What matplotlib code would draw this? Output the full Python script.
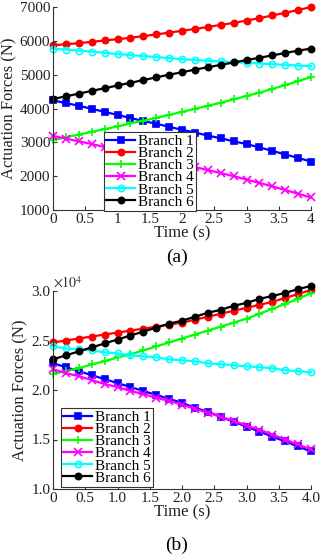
import matplotlib
matplotlib.use("Agg")
import matplotlib.pyplot as plt
import numpy as np

plt.rcParams['font.family'] = ['Liberation Serif', 'DejaVu Serif']
plt.rcParams['mathtext.fontset'] = 'stix'

time = [0.0, 0.2, 0.4, 0.6, 0.8, 1.0, 1.2, 1.4, 1.6, 1.8, 2.0,
        2.2, 2.4, 2.6, 2.8, 3.0, 3.2, 3.4, 3.6, 3.8, 4.0]
labels = ["Branch 1", "Branch 2", "Branch 3", "Branch 4", "Branch 5", "Branch 6"]

# (a) actuation forces, N
a_b1 = [4240, 4160, 4080, 3990, 3900, 3810, 3720, 3630, 3550, 3460, 3370,
        3290, 3200, 3120, 3030, 2950, 2850, 2750, 2640, 2540, 2430]
a_b2 = [5870, 5900, 5930, 5970, 6010, 6050, 6090, 6140, 6190, 6240, 6300,
        6350, 6410, 6470, 6530, 6600, 6670, 6750, 6830, 6910, 7000]
a_b3 = [3070, 3150, 3230, 3310, 3390, 3470, 3560, 3640, 3720, 3810, 3900,
        3990, 4080, 4170, 4270, 4370, 4470, 4580, 4690, 4810, 4930]
a_b4 = [3190, 3110, 3030, 2950, 2860, 2780, 2700, 2610, 2530, 2440, 2360,
        2270, 2180, 2090, 2000, 1900, 1800, 1700, 1590, 1480, 1370]
a_b5 = [5770, 5740, 5710, 5680, 5650, 5610, 5580, 5550, 5520, 5490, 5460,
        5430, 5410, 5390, 5370, 5350, 5330, 5310, 5290, 5270, 5250]
a_b6 = [4280, 4360, 4440, 4520, 4600, 4680, 4760, 4840, 4920, 5000, 5070,
        5150, 5220, 5290, 5360, 5430, 5500, 5570, 5640, 5710, 5770]

# (b) actuation forces, x 1e4 N
b_b1 = [2.27, 2.23, 2.19, 2.15, 2.11, 2.07, 2.03, 1.99, 1.95, 1.91, 1.87,
        1.82, 1.78, 1.73, 1.68, 1.63, 1.58, 1.53, 1.48, 1.43, 1.38]
b_b2 = [2.48, 2.50, 2.52, 2.54, 2.56, 2.58, 2.60, 2.62, 2.64, 2.66, 2.68,
        2.71, 2.74, 2.77, 2.80, 2.83, 2.86, 2.89, 2.93, 2.97, 3.01]
b_b3 = [2.16, 2.19, 2.22, 2.26, 2.29, 2.33, 2.36, 2.40, 2.44, 2.48, 2.52,
        2.56, 2.60, 2.64, 2.68, 2.72, 2.77, 2.82, 2.87, 2.92, 2.98]
b_b4 = [2.21, 2.17, 2.14, 2.10, 2.06, 2.03, 1.99, 1.96, 1.92, 1.89, 1.85,
        1.81, 1.77, 1.73, 1.69, 1.64, 1.60, 1.55, 1.50, 1.45, 1.40]
b_b5 = [2.44, 2.42, 2.41, 2.40, 2.38, 2.37, 2.35, 2.34, 2.33, 2.31, 2.30,
        2.29, 2.27, 2.26, 2.25, 2.24, 2.23, 2.22, 2.20, 2.19, 2.18]
b_b6 = [2.31, 2.35, 2.39, 2.43, 2.47, 2.51, 2.55, 2.59, 2.63, 2.67, 2.70,
        2.74, 2.78, 2.81, 2.85, 2.88, 2.92, 2.95, 2.98, 3.02, 3.05]

a_ticks_y = [1000, 2000, 3000, 4000, 5000, 6000, 7000]
b_ticks_y = [1.0, 1.5, 2.0, 2.5, 3.0]
x_ticks = [0, 0.5, 1, 1.5, 2, 2.5, 3, 3.5, 4]
a_xlabels = ["0", "0.5", "1", "1.5", "2", "2.5", "3", "3.5", "4"]
b_xlabels = ["0", "0.5", "1.0", "1.5", "2.0", "2.5", "3.0", "3.5", "4.0"]
b_ylabels = ["1.0", "1.5", "2.0", "2.5", "3.0"]

colors = ["#0000ff", "#ff0000", "#00ff00", "#ff00ff", "#00ffff", "#000000"]
markers = ["s", "o", "+", "x", "o", "o"]

W, H = 320, 557
fig = plt.figure(figsize=(W / 100, H / 100), dpi=100)

def px_axes(left, top, right, bottom):
    return fig.add_axes([left / W, 1 - bottom / H, (right - left) / W, (bottom - top) / H])

axA = px_axes(53, 7, 311, 210)
axB = px_axes(53, 291, 311, 489)

FS = 11
LFS = 12

def draw(ax, series):
    for vals, c, m, lab in zip(series, colors, markers, labels):
        face = 'none' if (m == 'o' and c == "#00ffff") else c
        ms = 5.5 if m in ('+', 'x') else 4.5
        ax.plot(time, vals, color=c, marker=m, markersize=ms, markerfacecolor=face,
                markeredgecolor=c, markeredgewidth=1.2, linewidth=1.6, label=lab,
                clip_on=False)
    for s in ('top', 'right'):
        ax.spines[s].set_visible(False)
    for s in ('left', 'bottom'):
        ax.spines[s].set_color('#333333')
        ax.spines[s].set_linewidth(0.8)
    ax.tick_params(direction='in', length=3, width=0.8, labelsize=FS, colors='#333333',
                   labelcolor='#222222', pad=2)
    ax.set_xlim(0, 4)
    ax.set_xticks(x_ticks)
    ax.set_xlabel("Time (s)", fontsize=LFS, labelpad=0, color='#222222')
    ax.set_ylabel("Actuation Forces (N)", fontsize=LFS, labelpad=2, color='#222222')

draw(axA, [a_b1, a_b2, a_b3, a_b4, a_b5, a_b6])
axA.set_ylim(1000, 7000)
axA.set_yticks(a_ticks_y)
axA.set_xticklabels(a_xlabels)

draw(axB, [b_b1, b_b2, b_b3, b_b4, b_b5, b_b6])
axB.set_ylim(1.0, 3.0)
axB.set_yticks(b_ticks_y)
axB.set_yticklabels(b_ylabels)
axB.set_xticklabels(b_xlabels)
axB.text(0.0, 1.0, r"$\times10^4$", transform=axB.transAxes, fontsize=FS - 1,
         color='#333333', ha='left', va='bottom')

leg_kw = dict(fontsize=FS, frameon=True, fancybox=False, edgecolor='#333333',
              labelspacing=-0.1, handlelength=1.9, handletextpad=0.15,
              borderpad=0.15, borderaxespad=0, loc='upper left', framealpha=1)
legA = axA.legend(bbox_to_anchor=((104 - 53) / 258, (210 - 132) / 203), **leg_kw)
legB = axB.legend(bbox_to_anchor=((61 - 53) / 258, (489 - 408) / 198), **leg_kw)
for lg in (legA, legB):
    lg.get_frame().set_linewidth(0.8)

fig.text(177 / W, 1 - 257 / H, "(a)", fontsize=14, ha='center', va='center')
fig.text(177 / W, 1 - 545 / H, "(b)", fontsize=14, ha='center', va='center')

fig.savefig("out.png", dpi=100)
